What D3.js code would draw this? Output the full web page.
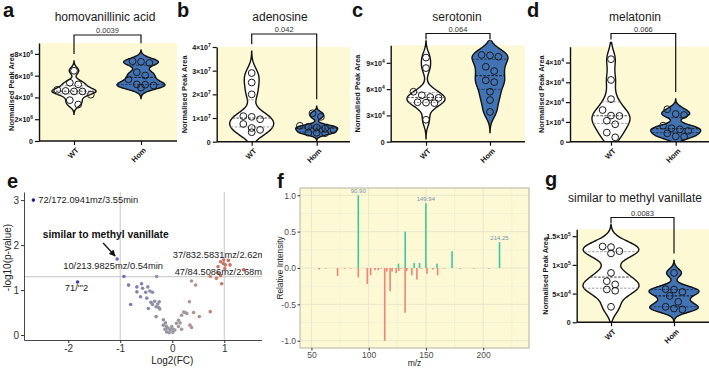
<!DOCTYPE html>
<html>
<head>
<meta charset="utf-8">
<script src="https://cdn.jsdelivr.net/npm/d3@7"></script>
<style>
body { margin: 0; background: #fff; }
svg { display: block; font-family: "Liberation Sans", Arial, sans-serif; }
</style>
</head>
<body>
<script>
var w = 709, h = 369;

// ---- data ----
var groups = ["WT", "Hom"];
var titles = ["homovanillinic acid", "adenosine", "serotonin", "melatonin", "similar to methyl vanillate"];
var pLabels = ["0.0039", "0.042", "0.064", "0.066", "0.0083"];

var hvaWT = [6.45e6, 5.35e6, 5.2e6, 4.7e6, 4.55e6, 4.55e6, 4.6e6, 4.25e6, 3.75e6, 3.35e6];
var hvaHom = [7.33e6, 7.27e6, 7.17e6, 6.32e6, 6.02e6, 5.66e6, 5.2e6, 4.9e6, 5.1e6, 5.17e6];
var hvaTicks = [0, 2e6, 4e6, 6e6, 8e6];

var adoWT = [2.9e7, 2.5e7, 2.0e7, 1.05e7, 0.95e7, 1.08e7, 0.58e7, 0.75e7, 0.4e7, 0.5e7];
var adoHom = [1.2e7, 1.05e7, 0.67e7, 0.36e7, 0.6e7, 0.55e7, 0.38e7, 0.63e7, 0.38e7, 0.5e7];
var adoTicks = [0, 1e7, 2e7, 3e7, 4e7];

var serWT = [9.6e4, 8.4e4, 5.7e4, 5.3e4, 5.1e4, 5.0e4, 4.5e4, 4.4e4, 4.45e4, 2.5e4];
var serHom = [9.9e4, 9.7e4, 9.85e4, 8.55e4, 8.06e4, 7.0e4, 6.8e4, 5.7e4, 4.75e4, 3.4e4];
var serTicks = [0, 3e4, 6e4, 9e4];

var melWT = [4.17e4, 3.12e4, 2.15e4, 1.6e4, 1.32e4, 1.3e4, 1.06e4, 0.88e4, 0.46e4, 0.22e4];
var melHom = [1.64e4, 1.4e4, 1.35e4, 0.81e4, 0.68e4, 0.63e4, 0.55e4, 0.42e4, 0.25e4, 0.27e4];
var melTicks = [0, 1e4, 2e4, 3e4, 4e4];

var mvWT = [1.32e5, 1.31e5, 1.24e5, 1.2e5, 0.86e5, 0.716e5, 0.66e5, 0.572e5, 0.55e5, 0.27e5];
var mvHom = [0.86e5, 0.577e5, 0.57e5, 0.53e5, 0.46e5, 0.357e5, 0.27e5, 0.225e5, 0.24e5];
var mvTicks = [0, 5e4, 1e5, 1.5e5];

// volcano (e)
var volcanoFC = [-2.67, -1.82, -1.06, -0.93, -0.84, -0.80, -0.68, -0.68, -0.59, -0.57, -0.61, -0.51, -0.47, -0.43,
  -0.38, -0.49, -0.41, -0.38, -0.34, -0.31, -0.28, -0.25, -0.26, -0.24, -0.30, -0.46, -0.31, -0.17, -0.13, -0.17,
  -0.11, -0.08, -0.04, -0.14, -0.04, 0.02, -0.01, 0.05, 0.08, 0.12, 0.15, 0.12, 0.18, 0.22, 0.25, 0.28, 0.18, 0.34,
  0.37, 0.33, 0.41, 0.52, 0.37, 0.45, 0.73, 0.73, 0.85, 0.88, 0.93, 0.95, 0.88, 0.93, 0.98, 1.02, 1.08, 1.01, 1.11,
  0.99, 1.37, -0.11, -0.06, 0.01];
var volcanoLogP = [3.0, 1.18, 1.69, 1.30, 1.11, 0.68, 0.96, 1.07, 1.14, 1.04, 0.85, 0.95, 1.07, 0.98,
  0.95, 0.82, 0.73, 0.68, 0.75, 0.63, 0.69, 0.74, 0.61, 0.58, 1.30, 0.59, 0.41, 0.34, 0.27, 0.22,
  0.19, 0.15, 0.13, 0.13, 0.11, 0.13, 0.19, 0.11, 0.26, 0.33, 0.27, 0.19, 0.44, 0.51, 0.50, 0.48, 0.13, 0.22,
  0.17, 0.74, 0.50, 0.41, 1.20, 1.11, 0.52, 1.30, 1.26, 1.38, 1.32, 1.14, 1.52, 1.63, 1.59, 1.56, 1.66, 1.48, 1.56,
  1.67, 1.45, 0.07, 0.05, 0.06];
var volcanoLabels = ["72/172.0941mz/3.55min", "10/213.9825mz/0.54min", "71/'''2", "37/832.5831mz/2.62min", "47/84.5086mz/2.68min"];
var volcanoLabelIdx = [0, 2, 1, 67, 58];
var volcanoXTicks = [-2, -1, 0, 1];
var volcanoYTicks = [0, 1, 2, 3];

// spectrum (f)
var specMzUp = [90.90, 126.0, 131.9, 139.7, 144.4, 149.94, 159.6, 172.8, 214.25];
var specIntUp = [1.0, 0.06, 0.5, 0.07, 0.07, 0.89, 0.06, 0.23, 0.355];
var specMzDown = [56.7, 72.8, 79.2, 90.9, 98.8, 101.7, 105.5, 108.4, 114.0, 115.8, 118.7, 120.4, 124.0, 126.3,
  131.8, 133.3, 137.7, 142.1, 150.9, 156.1, 160.2, 62.5, 84.0, 111.0, 128.5, 146.0, 166.0, 180.0, 192.0, 205.0];
var specIntDown = [-0.02, -0.11, -0.01, -0.13, -0.22, -0.10, -0.03, -0.03, -1.0, -0.05, -0.32, -0.05, -0.07, -0.04,
  -0.615, -0.04, -0.10, -0.16, -0.08, -0.02, -0.10, -0.008, -0.008, -0.01, -0.01, -0.01, -0.006, -0.006, -0.006, -0.006];
var peakLabels = ["90.90", "149.94", "214.25"];
var peakMz = [90.90, 149.94, 214.25];
var peakInt = [1.0, 0.89, 0.355];
var specXTicks = [50, 100, 150, 200];
var specXMinor = [75, 125, 175, 225];
var specYTicks = [-1, -0.5, 0, 0.5, 1];
var specYMinor = [-0.75, -0.25, 0.25, 0.75];

// ---- styles ----
var yellow = "#fcf9d4", homBlue = "#4173b5";

var svg = d3.select("body").append("svg").attr("width", w).attr("height", h);

function supFormat(sel, v) {
	if (v === 0) { sel.text("0"); return; }
	var e = Math.floor(Math.log10(v) + 1e-9);
	var m = Math.round(v / Math.pow(10, e) * 10) / 10;
	sel.append("tspan").text(m + "\u00d710");
	sel.append("tspan").attr("dy", -3).attr("font-size", "5px").text(e);
}

var violinLayouts = [
	{left: 39, right: 177, top: 43, bottom: 141, max: 9e6, wtX: 74, homX: 141, bracket: 35, titleX: 105, titleY: 21, yTitleX: 13.7, half: [22, 24]},
	{left: 216.7, right: 350, top: 47, bottom: 141.7, max: 4e7, wtX: 251.7, homX: 316.7, bracket: 34, titleX: 280, titleY: 21, yTitleX: 187, half: [22, 21]},
	{left: 390.7, right: 525, top: 45.3, bottom: 141.7, max: 1.1e5, wtX: 426, homX: 490, bracket: 33.5, titleX: 457, titleY: 21, yTitleX: 360.4, half: [19, 18]},
	{left: 570, right: 709, top: 46.7, bottom: 141.7, max: 4.8e4, wtX: 611, homX: 675.7, bracket: 33.5, titleX: 635, titleY: 21, yTitleX: 544.4, half: [19, 25]},
	{left: 576.7, right: 709, top: 229.3, bottom: 322.3, max: 1.62e5, wtX: 611, homX: 674, bracket: 217.5, titleX: 635, titleY: 202, yTitleX: 548.4, half: [28, 25]}
];
var violinData = [[hvaWT, hvaHom, hvaTicks], [adoWT, adoHom, adoTicks], [serWT, serHom, serTicks], [melWT, melHom, melTicks], [mvWT, mvHom, mvTicks]];

function drawViolins(L, title, pLab, wt, hom, ticks, idx) {
	var x = d3.scalePoint().domain(groups).range([L.wtX, L.homX]);
	var y = d3.scaleLinear().domain([0, L.max]).range([L.bottom, L.top]);
	var g = svg.append("g");

	g.append("rect").attr("x", L.left).attr("y", L.top)
		.attr("width", L.right - L.left).attr("height", L.bottom - L.top)
		.attr("fill", yellow);

	var clipId = "vclip" + idx;
	g.append("clipPath").attr("id", clipId).append("rect")
		.attr("x", L.left).attr("y", L.top - 5)
		.attr("width", L.right - L.left).attr("height", L.bottom - L.top + 5);

	var tops = [];
	[wt, hom].forEach(function(vals, gi) {
		var cx = x(groups[gi]);
		var bw = 0.35 * d3.deviation(vals);
		var lo = Math.max(0, d3.min(vals) - 3 * bw);
		var hi = Math.min(y.invert(L.top - 5), d3.max(vals) + 3 * bw);
		var dens = function(v) {
			return d3.sum(vals, function(d) { var z = (v - d) / bw; return Math.exp(-0.5 * z * z); });
		};
		var pts = d3.range(81).map(function(i) { var v = lo + (hi - lo) * i / 80; return [v, dens(v)]; });
		var wScale = d3.scaleLinear().domain([0, d3.max(pts, function(p) { return p[1]; })]).range([0, L.half[gi]]);
		tops.push(y(hi));

		var vg = g.append("g").attr("clip-path", "url(#" + clipId + ")");
		vg.append("path").datum(pts)
			.attr("d", d3.area().curve(d3.curveCatmullRom)
				.y(function(p) { return y(p[0]); })
				.x0(function(p) { return cx - wScale(p[1]); })
				.x1(function(p) { return cx + wScale(p[1]); }))
			.attr("fill", gi === 0 ? "#fff" : homBlue)
			.attr("stroke", "#111").attr("stroke-width", 1.4);

		var sorted = vals.slice().sort(d3.ascending);
		[0.25, 0.5, 0.75].forEach(function(q) {
			var v = d3.quantile(sorted, q), hw = wScale(dens(v));
			vg.append("line")
				.attr("x1", cx - hw).attr("x2", cx + hw)
				.attr("y1", y(v)).attr("y2", y(v))
				.attr("stroke", gi === 0 ? (q === 0.5 ? "#444" : "#888") : (q === 0.5 ? "#111" : "#1a2a45"))
				.attr("stroke-width", q === 0.5 ? 1 : 0.8)
				.attr("stroke-dasharray", "2.5,1.5");
		});

		// simple row swarm
		var desc = vals.slice().sort(d3.descending);
		var rows = [], cur = [];
		desc.forEach(function(v) {
			if (cur.length && y(v) - y(cur[0]) > 6.5) { rows.push(cur); cur = []; }
			cur.push(v);
		});
		if (cur.length) rows.push(cur);
		rows.forEach(function(r) {
			r.forEach(function(v, i) {
				g.append("circle")
					.attr("cx", cx + (i - (r.length - 1) / 2) * 8.4)
					.attr("cy", y(v)).attr("r", 3.4)
					.attr("fill", "none").attr("stroke", "#1a1a1a").attr("stroke-width", 1);
			});
		});
	});

	// y axis
	var yAxis = g.append("g").attr("transform", "translate(" + L.left + ",0)")
		.call(d3.axisLeft(y).tickValues(ticks).tickSize(4).tickSizeOuter(0).tickFormat(""));
	yAxis.select(".domain").attr("stroke", "#111").attr("stroke-width", 1.4);
	yAxis.selectAll(".tick line").attr("stroke", "#111").attr("stroke-width", 1.2);
	yAxis.selectAll(".tick").append("text")
		.attr("x", -6).attr("dy", "0.35em")
		.attr("text-anchor", "end").attr("fill", "#111")
		.attr("font-size", "7px").attr("font-weight", "bold")
		.each(function(d) { supFormat(d3.select(this), d); });

	// x axis
	g.append("line").attr("x1", L.left).attr("x2", L.right)
		.attr("y1", L.bottom).attr("y2", L.bottom)
		.attr("stroke", "#111").attr("stroke-width", 1.4);
	var xAxis = g.append("g").attr("transform", "translate(0," + L.bottom + ")")
		.call(d3.axisBottom(x).tickSize(4).tickSizeOuter(0).tickFormat(""));
	xAxis.select(".domain").remove();
	xAxis.selectAll(".tick line").attr("stroke", "#111").attr("stroke-width", 1.2);
	xAxis.selectAll(".tick").append("text")
		.attr("transform", "translate(3,8) rotate(-45)")
		.attr("text-anchor", "end").attr("dy", "0.35em")
		.attr("fill", "#111").attr("font-size", "7.5px").attr("font-weight", "bold")
		.text(function(d) { return d; });

	// titles
	g.append("text").attr("x", L.titleX).attr("y", L.titleY)
		.attr("text-anchor", "middle").attr("font-size", "12px").attr("fill", "#1a1a1a")
		.text(title);
	g.append("text")
		.attr("transform", "translate(" + L.yTitleX + "," + (L.top + L.bottom) / 2 + ") rotate(-90)")
		.attr("text-anchor", "middle").attr("font-size", "7.4px").attr("font-weight", "bold").attr("fill", "#1a1a1a")
		.text("Normalised Peak Area");

	// significance bracket
	var bx0 = x("WT"), bx1 = x("Hom");
	var leg0 = Math.max(L.bracket + 6, tops[0] - 7), leg1 = Math.max(L.bracket + 6, tops[1] - 7);
	g.append("path")
		.attr("d", "M" + bx0 + "," + leg0 + "V" + L.bracket + "H" + bx1 + "V" + leg1)
		.attr("fill", "none").attr("stroke", "#111").attr("stroke-width", 1.2);
	g.append("text").attr("x", (bx0 + bx1) / 2).attr("y", L.bracket - 1.8)
		.attr("text-anchor", "middle").attr("font-size", "7.5px").attr("fill", "#333")
		.text(pLab);
}

violinLayouts.forEach(function(L, i) {
	drawViolins(L, titles[i], pLabels[i], violinData[i][0], violinData[i][1], violinData[i][2], i);
});

// ---- e: volcano ----
var ex = d3.scaleLinear().domain([-2.85, 2.84]).range([24, 320]);
var ey = d3.scaleLinear().domain([-0.11, 3.18]).range([340, 192]);
var eg = svg.append("g");
var volColor = d3.scaleLinear()
	.domain([-2.7, -1.5, -0.8, 0.1, 0.6, 1.1])
	.range(["#1c1ca0", "#4848b0", "#7b7cb4", "#a09c9e", "#c08a80", "#cc6f5c"]);

eg.selectAll(".vline").data([-1, 1]).enter().append("line")
	.attr("x1", function(d) { return ex(d); }).attr("x2", function(d) { return ex(d); })
	.attr("y1", ey.range()[1]).attr("y2", ey.range()[0])
	.attr("stroke", "#cfcfcf").attr("stroke-width", 1.2);
eg.append("line")
	.attr("x1", ex.range()[0]).attr("x2", ex.range()[1])
	.attr("y1", ey(-Math.log10(0.05))).attr("y2", ey(-Math.log10(0.05)))
	.attr("stroke", "#cfcfcf").attr("stroke-width", 1.2);

eg.selectAll(".pt").data(volcanoFC).enter().append("circle")
	.attr("cx", function(d) { return ex(d); })
	.attr("cy", function(d, i) { return ey(volcanoLogP[i]); })
	.attr("r", 1.8)
	.attr("fill", function(d) { return volColor(d); });

var exAxis = eg.append("g").attr("transform", "translate(0,340)")
	.call(d3.axisBottom(ex).tickValues(volcanoXTicks).tickSize(3).tickSizeOuter(0).tickFormat(function(d) { return String(d); }));
var eyAxis = eg.append("g").attr("transform", "translate(24,0)")
	.call(d3.axisLeft(ey).tickValues(volcanoYTicks).tickSize(3).tickSizeOuter(0).tickFormat(function(d) { return String(d); }));
[exAxis, eyAxis].forEach(function(a) {
	a.select(".domain").attr("stroke", "#333").attr("stroke-width", 0.9);
	a.selectAll(".tick line").attr("stroke", "#333");
	a.selectAll(".tick text").attr("fill", "#333").attr("font-size", "10px")
		.attr("font-family", '"Liberation Sans", Arial, sans-serif');
});
exAxis.selectAll(".tick text").attr("y", 5).attr("dy", "0.71em");
eyAxis.selectAll(".tick text").attr("x", -5);

eg.append("text").attr("x", ex(0)).attr("y", 364).attr("text-anchor", "middle")
	.attr("font-size", "10px").attr("fill", "#222").text("Log2(FC)");
eg.append("text").attr("transform", "translate(10.5,257.5) rotate(-90)").attr("text-anchor", "middle")
	.attr("font-size", "10px").attr("fill", "#222").text("-log10(p-value)");

var labelOffsets = [[5, 3.3, "start"], [-4, 10.3, "middle"], [-1, 9.3, "middle"], [-51, -1.5, "start"], [-46, -1, "start"]];
volcanoLabels.forEach(function(t, k) {
	var i = volcanoLabelIdx[k], o = labelOffsets[k];
	eg.append("text")
		.attr("x", ex(volcanoFC[i]) + o[0]).attr("y", ey(volcanoLogP[i]) + o[1])
		.attr("text-anchor", o[2]).attr("font-size", "9.3px").attr("fill", "#1a1a1a")
		.text(t);
});
var mvx = ex(volcanoFC[2]), mvy = ey(volcanoLogP[2]);
eg.append("text").attr("x", mvx - 11.4).attr("y", mvy - 21)
	.attr("text-anchor", "middle").attr("font-size", "10.3px").attr("font-weight", "bold").attr("fill", "#111")
	.text("similar to methyl vanillate");
svg.append("defs").append("marker").attr("id", "arr")
	.attr("viewBox", "0 0 10 10").attr("refX", 9).attr("refY", 5)
	.attr("markerWidth", 5).attr("markerHeight", 5).attr("orient", "auto")
	.append("path").attr("d", "M0,0L10,5L0,10Z").attr("fill", "#111");
eg.append("line").attr("x1", mvx - 14).attr("y1", mvy - 16).attr("x2", mvx - 2).attr("y2", mvy - 3)
	.attr("stroke", "#111").attr("stroke-width", 1.3).attr("marker-end", "url(#arr)");

// ---- f: mirrored spectrum ----
svg.append("rect").attr("x", 262).attr("y", 168).attr("width", 269).attr("height", 201).attr("fill", "#fff");
var fx = d3.scaleLinear().domain([40, 240]).range([300, 529]);
var fy = d3.scaleLinear().domain([-1.1, 1.1]).range([348, 188]);
var fg = svg.append("g");
fg.append("rect").attr("x", 300).attr("y", 188).attr("width", 229).attr("height", 160).attr("fill", yellow);
fg.selectAll(".mx").data(specXMinor).enter().append("line")
	.attr("x1", function(d) { return fx(d); }).attr("x2", function(d) { return fx(d); })
	.attr("y1", 188).attr("y2", 348).attr("stroke", "#edebd6").attr("stroke-width", 0.5);
fg.selectAll(".my").data(specYMinor).enter().append("line")
	.attr("y1", function(d) { return fy(d); }).attr("y2", function(d) { return fy(d); })
	.attr("x1", 300).attr("x2", 529).attr("stroke", "#edebd6").attr("stroke-width", 0.5);
fg.selectAll(".gx").data(specXTicks).enter().append("line")
	.attr("x1", function(d) { return fx(d); }).attr("x2", function(d) { return fx(d); })
	.attr("y1", 188).attr("y2", 348).attr("stroke", "#e4e2cc").attr("stroke-width", 0.8);
fg.selectAll(".gy").data(specYTicks).enter().append("line")
	.attr("y1", function(d) { return fy(d); }).attr("y2", function(d) { return fy(d); })
	.attr("x1", 300).attr("x2", 529).attr("stroke", "#e4e2cc").attr("stroke-width", 0.8);

fg.selectAll(".up").data(specMzUp).enter().append("rect")
	.attr("x", function(d) { return fx(d) - 0.8; }).attr("width", 1.6)
	.attr("y", function(d, i) { return fy(specIntUp[i]); })
	.attr("height", function(d, i) { return fy(0) - fy(specIntUp[i]); })
	.attr("fill", "#3fc7a1");
fg.selectAll(".dn").data(specMzDown).enter().append("rect")
	.attr("x", function(d) { return fx(d) - 0.8; }).attr("width", 1.6)
	.attr("y", fy(0))
	.attr("height", function(d, i) { return Math.max(0.6, fy(specIntDown[i]) - fy(0)); })
	.attr("fill", "#f08475");
fg.selectAll(".pl").data(peakLabels).enter().append("text")
	.attr("x", function(d, i) { return fx(peakMz[i]); })
	.attr("y", function(d, i) { return fy(peakInt[i]) - 2; })
	.attr("text-anchor", "middle").attr("font-size", "6px").attr("fill", "#7393b3")
	.text(function(d) { return d; });

fg.append("rect").attr("x", 300).attr("y", 188).attr("width", 229).attr("height", 160)
	.attr("fill", "none").attr("stroke", "#b5b3a0").attr("stroke-width", 1);

var fxAxis = fg.append("g").attr("transform", "translate(0,348)")
	.call(d3.axisBottom(fx).tickValues(specXTicks).tickSize(2.5).tickSizeOuter(0));
var fyAxis = fg.append("g").attr("transform", "translate(300,0)")
	.call(d3.axisLeft(fy).tickValues(specYTicks).tickSize(2.5).tickSizeOuter(0).tickFormat(function(d) { return d.toFixed(1); }));
[fxAxis, fyAxis].forEach(function(a) {
	a.select(".domain").remove();
	a.selectAll(".tick line").attr("stroke", "#333");
	a.selectAll(".tick text").attr("fill", "#4d4d4d").attr("font-size", "8.5px")
		.attr("font-family", '"Liberation Sans", Arial, sans-serif');
});
fyAxis.selectAll(".tick text").attr("x", -4);
fxAxis.selectAll(".tick text").attr("y", 4);
fg.append("text").attr("x", fx(140)).attr("y", 366).attr("text-anchor", "middle")
	.attr("font-size", "8.5px").attr("fill", "#222").text("m/z");
fg.append("text").attr("transform", "translate(283,268) rotate(-90)").attr("text-anchor", "middle")
	.attr("font-size", "8.3px").attr("fill", "#222").text("Relative Intensity");

// ---- panel letters ----
var panelLetters = ["a", "b", "c", "d", "e", "f", "g"];
var letterPos = [[3, 17], [177, 17], [352, 17], [527, 17], [7, 188], [277, 188], [545, 186]];
panelLetters.forEach(function(l, i) {
	svg.append("text").attr("x", letterPos[i][0]).attr("y", letterPos[i][1])
		.attr("font-size", "20px").attr("font-weight", "bold").attr("fill", "#111")
		.text(l);
});
</script>
</body>
</html>
